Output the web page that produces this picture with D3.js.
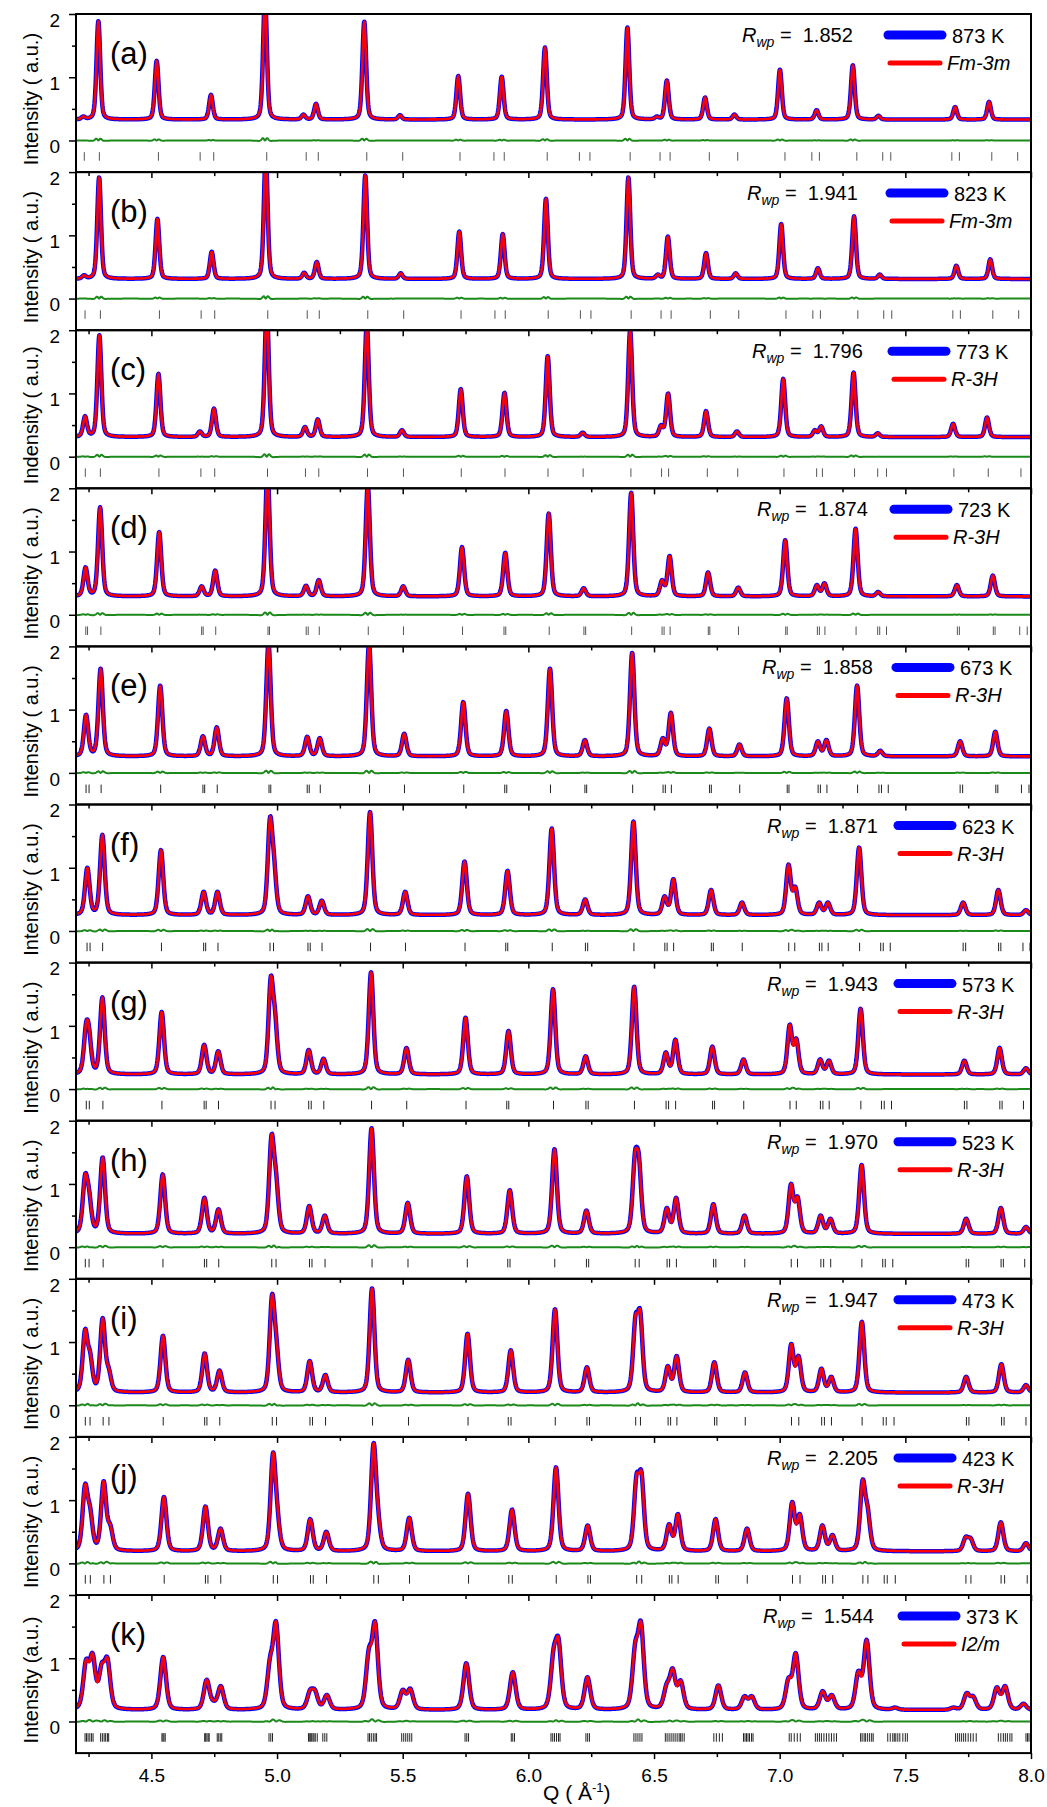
<!DOCTYPE html>
<html>
<head>
<meta charset="utf-8">
<script src="https://cdn.jsdelivr.net/npm/d3@7"></script>
<style>
  body { margin: 0; background: #fff; }
  svg { display: block; }
  text { font-family: "Liberation Sans", Arial, sans-serif; fill: #000; }
</style>
</head>
<body>
<svg id="chart" width="1047" height="1807"></svg>
<script>
// ---- panel metadata ----
const panelLabels = ["(a)", "(b)", "(c)", "(d)", "(e)", "(f)", "(g)", "(h)", "(i)", "(j)", "(k)"];
const temperatures = ["873 K", "823 K", "773 K", "723 K", "673 K", "623 K", "573 K", "523 K", "473 K", "423 K", "373 K"];
const spaceGroups = ["Fm-3m", "Fm-3m", "R-3H", "R-3H", "R-3H", "R-3H", "R-3H", "R-3H", "R-3H", "R-3H", "I2/m"];
const rwpValues = ["1.852", "1.941", "1.796", "1.874", "1.858", "1.871", "1.943", "1.970", "1.947", "2.205", "1.544"];
const yTitles = ["Intensity ( a.u.)", "Intensity ( a.u.)", "Indensity ( a.u.)", "Intensity ( a.u.)",
  "Intensity ( a.u.)", "Intensity ( a.u.)", "Intensity ( a.u.)", "Intensity ( a.u.)",
  "Intensity ( a.u.)", "Intensity ( a.u.)", "Intensity (a.u.)"];

// ---- axis ticks ----
const xMajorTicks = [4.5, 5.0, 5.5, 6.0, 6.5, 7.0, 7.5, 8.0];
const xMinorTicks = [4.25, 4.75, 5.25, 5.75, 6.25, 6.75, 7.25, 7.75];
const yMajorTicks = [0, 1, 2];
const yMinorTicks = [0.5, 1.5];

// ---- background level and peak width (FWHM, Å^-1) for each pattern ----
const backgrounds = [0.33, 0.31, 0.31, 0.29, 0.26, 0.25, 0.23, 0.21, 0.20, 0.19, 0.18];
const peakWidths  = [0.017, 0.017, 0.018, 0.019, 0.020, 0.021, 0.021, 0.022, 0.022, 0.023, 0.026];

// ---- reflections: [Q, observed intensity at that Q] ----
const peaksA = [[4.229,0.38],[4.289,1.89],[4.521,1.26],[4.737,0.72],[4.952,2.3],[5.105,0.41],[5.155,0.58],[5.347,1.88],[5.489,0.40],[5.721,1.02],[5.894,1.01],[6.066,1.47],[6.394,1.79],[6.511,0.38],[6.551,0.95],[6.703,0.68],[6.820,0.41],[7.001,1.12],[7.147,0.48],[7.291,1.19],[7.393,0.39],[7.698,0.53],[7.833,0.61]];
const peaksB = [[4.232,0.37],[4.292,1.92],[4.524,1.26],[4.740,0.74],[4.955,2.3],[5.108,0.41],[5.158,0.58],[5.351,1.95],[5.492,0.40],[5.725,1.06],[5.898,1.02],[6.070,1.58],[6.398,1.92],[6.515,0.38],[6.555,0.98],[6.707,0.72],[6.825,0.40],[7.006,1.18],[7.152,0.48],[7.296,1.30],[7.398,0.38],[7.703,0.52],[7.838,0.62]];
const peaksC = [[4.236,0.64],[4.293,1.92],[4.528,1.31],[4.693,0.40],[4.749,0.76],[4.959,2.4],[5.111,0.47],[5.162,0.59],[5.357,2.1],[5.497,0.42],[5.731,1.07],[5.905,1.01],[6.077,1.59],[6.216,0.38],[6.405,2.0],[6.528,0.50],[6.556,1.0],[6.707,0.72],[6.830,0.40],[7.014,1.23],[7.140,0.42],[7.165,0.48],[7.294,1.33],[7.390,0.37],[7.690,0.52],[7.825,0.62]];
const peaksD = [[4.238,0.75],[4.296,1.70],[4.531,1.31],[4.700,0.45],[4.754,0.70],[4.962,2.3],[5.115,0.46],[5.166,0.55],[5.361,2.05],[5.502,0.45],[5.736,1.07],[5.908,0.98],[6.081,1.60],[6.220,0.42],[6.409,1.93],[6.532,0.55],[6.562,0.93],[6.715,0.67],[6.835,0.43],[7.022,1.18],[7.148,0.47],[7.178,0.50],[7.302,1.36],[7.392,0.36],[7.705,0.47],[7.848,0.62]];
const peaksE = [[4.240,0.92],[4.298,1.65],[4.535,1.38],[4.705,0.58],[4.760,0.72],[4.966,2.05],[5.120,0.57],[5.170,0.55],[5.366,2.05],[5.506,0.62],[5.741,1.12],[5.912,0.98],[6.086,1.65],[6.225,0.52],[6.413,1.90],[6.535,0.55],[6.567,0.95],[6.720,0.70],[6.840,0.45],[7.028,1.18],[7.152,0.50],[7.186,0.52],[7.308,1.38],[7.400,0.35],[7.718,0.50],[7.858,0.65]];
const peaksF = [[4.245,1.00],[4.305,1.52],[4.538,1.28],[4.708,0.62],[4.763,0.62],[4.972,1.80],[4.988,1.20],[5.123,0.55],[5.178,0.48],[5.370,1.88],[5.510,0.62],[5.746,1.10],[5.917,0.95],[6.093,1.62],[6.226,0.50],[6.418,1.73],[6.542,0.55],[6.577,0.82],[6.727,0.65],[6.850,0.45],[7.035,1.05],[7.062,0.70],[7.157,0.45],[7.192,0.45],[7.316,1.32],[7.730,0.45],[7.870,0.65],[7.980,0.33]];
const peaksG = [[4.240,1.05],[4.252,0.98],[4.305,1.45],[4.541,1.22],[4.710,0.70],[4.766,0.60],[4.975,1.78],[4.992,1.25],[5.126,0.62],[5.185,0.48],[5.374,1.85],[5.515,0.65],[5.750,1.13],[5.921,0.92],[6.098,1.58],[6.228,0.52],[6.421,1.62],[6.547,0.58],[6.585,0.78],[6.732,0.67],[6.856,0.47],[7.040,1.02],[7.066,0.80],[7.161,0.47],[7.196,0.45],[7.322,1.27],[7.735,0.45],[7.875,0.65],[7.980,0.33]];
const peaksH = [[4.236,1.15],[4.252,0.92],[4.306,1.42],[4.545,1.15],[4.711,0.78],[4.767,0.60],[4.978,1.78],[4.996,1.20],[5.128,0.65],[5.190,0.50],[5.376,1.88],[5.520,0.70],[5.755,1.12],[5.926,0.90],[6.104,1.55],[6.231,0.58],[6.424,1.50],[6.440,1.45],[6.551,0.62],[6.588,0.78],[6.736,0.68],[6.860,0.50],[7.045,1.00],[7.071,0.80],[7.163,0.50],[7.202,0.45],[7.326,1.30],[7.742,0.45],[7.880,0.62],[7.980,0.32]];
const peaksI = [[4.236,1.20],[4.256,0.85],[4.306,1.38],[4.330,0.60],[4.546,1.10],[4.712,0.82],[4.771,0.55],[4.980,1.75],[4.997,1.10],[5.130,0.70],[5.192,0.48],[5.378,1.85],[5.522,0.72],[5.758,1.13],[5.930,0.87],[6.106,1.52],[6.233,0.60],[6.426,1.42],[6.445,1.50],[6.555,0.62],[6.590,0.78],[6.740,0.68],[6.862,0.52],[7.046,0.97],[7.075,0.78],[7.166,0.58],[7.205,0.45],[7.327,1.32],[7.742,0.45],[7.882,0.65],[7.980,0.32]];
const peaksJ = [[4.236,1.25],[4.256,0.90],[4.310,1.30],[4.336,0.62],[4.550,1.05],[4.715,0.90],[4.775,0.55],[4.984,1.75],[5.001,0.95],[5.132,0.70],[5.196,0.50],[5.384,1.90],[5.402,0.90],[5.526,0.72],[5.760,1.10],[5.935,0.85],[6.110,1.52],[6.236,0.60],[6.430,1.40],[6.450,1.45],[6.560,0.62],[6.595,0.78],[6.745,0.70],[6.870,0.55],[7.050,0.97],[7.080,0.78],[7.170,0.60],[7.210,0.45],[7.330,1.32],[7.350,0.90],[7.740,0.42],[7.760,0.40],[7.880,0.65],[7.980,0.32]];
const peaksK = [[4.240,0.98],[4.266,1.08],[4.284,0.30],[4.302,0.92],[4.325,1.01],[4.547,1.02],[4.720,0.66],[4.748,0.33],[4.776,0.56],[4.972,1.02],[4.996,1.58],[5.131,0.50],[5.151,0.50],[5.198,0.42],[5.365,1.15],[5.390,1.58],[5.500,0.50],[5.530,0.52],[5.753,0.92],[5.938,0.78],[6.100,1.15],[6.120,1.32],[6.235,0.70],[6.425,1.25],[6.448,1.58],[6.550,0.60],[6.574,0.84],[6.606,0.65],[6.756,0.57],[6.860,0.40],[6.889,0.40],[7.035,0.69],[7.064,1.08],[7.171,0.48],[7.207,0.42],[7.313,0.80],[7.346,1.29],[7.459,0.22],[7.691,0.22],[7.744,0.45],[7.770,0.40],[7.864,0.54],[7.897,0.56],[7.970,0.28]];

// ---- Bragg reflection positions (Q) ----
const braggA = [4.233,4.293,4.528,4.694,4.748,4.959,5.116,5.164,5.357,5.500,5.728,5.863,5.904,6.075,6.203,6.245,6.405,6.524,6.564,6.720,6.833,7.021,7.128,7.158,7.307,7.410,7.442,7.685,7.715,7.844,7.947];
const braggB = [4.236,4.297,4.532,4.698,4.752,4.963,5.120,5.168,5.361,5.504,5.732,5.867,5.908,6.079,6.207,6.249,6.409,6.528,6.568,6.724,6.837,7.025,7.132,7.162,7.311,7.414,7.446,7.689,7.719,7.848,7.951];
const braggC = [4.237,4.297,4.530,4.697,4.752,4.962,5.113,5.166,5.360,5.503,5.733,5.907,6.078,6.218,6.408,6.530,6.558,6.712,6.833,7.017,7.147,7.170,7.298,7.390,7.425,7.693,7.830,7.960];
const braggD = [4.239,4.246,4.299,4.533,4.700,4.706,4.756,4.964,4.970,5.116,5.124,5.168,5.363,5.503,5.738,5.903,5.910,6.083,6.221,6.228,6.411,6.532,6.540,6.564,6.716,6.722,6.836,7.024,7.030,7.150,7.158,7.180,7.304,7.390,7.398,7.425,7.707,7.715,7.850,7.857,7.955,7.985];
const braggE = [4.240,4.252,4.300,4.537,4.705,4.712,4.762,4.968,4.975,5.120,5.128,5.172,5.368,5.507,5.743,5.906,5.914,6.088,6.225,6.232,6.415,6.536,6.545,6.569,6.721,6.728,6.841,7.030,7.037,7.153,7.162,7.188,7.310,7.395,7.405,7.432,7.718,7.728,7.860,7.868,7.962,7.992];
const braggF = [4.244,4.256,4.306,4.540,4.708,4.716,4.765,4.972,4.986,5.123,5.132,5.179,5.372,5.511,5.748,5.910,5.918,6.095,6.227,6.236,6.420,6.543,6.552,6.578,6.728,6.736,6.851,7.036,7.060,7.158,7.168,7.193,7.318,7.402,7.412,7.440,7.730,7.740,7.871,7.880,7.968,7.996];
const braggG = [4.241,4.253,4.307,4.542,4.710,4.718,4.767,4.976,4.992,5.126,5.136,5.186,5.376,5.516,5.752,5.914,5.922,6.100,6.229,6.238,6.422,6.548,6.558,6.586,6.733,6.741,6.857,7.041,7.066,7.162,7.172,7.197,7.323,7.405,7.416,7.445,7.735,7.745,7.876,7.885,7.970,7.998];
const braggH = [4.237,4.252,4.308,4.546,4.711,4.720,4.768,4.979,4.996,5.129,5.139,5.191,5.378,5.521,5.757,5.918,5.927,6.105,6.231,6.240,6.425,6.441,6.552,6.562,6.589,6.737,6.746,6.861,7.046,7.071,7.164,7.175,7.203,7.327,7.410,7.420,7.450,7.742,7.752,7.881,7.890,7.975];
const braggI = [4.237,4.256,4.308,4.331,4.547,4.712,4.721,4.772,4.981,4.998,5.131,5.141,5.193,5.380,5.523,5.760,5.920,5.931,6.107,6.233,6.243,6.427,6.446,6.556,6.566,6.591,6.741,6.750,6.863,7.047,7.076,7.167,7.178,7.206,7.328,7.412,7.424,7.455,7.743,7.753,7.883,7.893,7.980];
const braggJ = [4.237,4.257,4.311,4.337,4.551,4.715,4.725,4.776,4.985,5.002,5.133,5.144,5.197,5.385,5.403,5.527,5.762,5.922,5.936,6.111,6.237,6.247,6.431,6.451,6.561,6.571,6.596,6.746,6.756,6.871,7.051,7.081,7.171,7.182,7.211,7.331,7.351,7.416,7.428,7.460,7.741,7.761,7.881,7.895,7.985];
const braggK = [4.236,4.242,4.248,4.255,4.262,4.268,4.298,4.305,4.312,4.318,4.325,4.330,4.542,4.546,4.550,4.555,4.712,4.716,4.721,4.726,4.730,4.762,4.768,4.774,4.780,4.968,4.975,4.982,5.125,5.130,5.134,5.138,5.143,5.147,5.152,5.160,5.182,5.190,5.198,5.362,5.368,5.375,5.383,5.390,5.396,5.496,5.504,5.512,5.520,5.528,5.536,5.748,5.755,5.762,5.932,5.938,5.945,6.090,6.097,6.104,6.112,6.120,6.126,6.229,6.236,6.243,6.420,6.428,6.436,6.444,6.452,6.545,6.552,6.560,6.568,6.576,6.584,6.592,6.600,6.606,6.612,6.620,6.738,6.748,6.760,6.772,6.856,6.862,6.868,6.874,6.880,6.888,6.894,7.038,7.046,7.058,7.070,7.082,7.142,7.150,7.158,7.166,7.176,7.186,7.196,7.206,7.216,7.226,7.322,7.328,7.336,7.342,7.350,7.358,7.366,7.372,7.430,7.440,7.450,7.456,7.462,7.470,7.478,7.490,7.500,7.508,7.700,7.708,7.716,7.724,7.732,7.740,7.750,7.760,7.770,7.782,7.870,7.880,7.890,7.898,7.906,7.916,7.924,7.980,7.986,7.992,7.998];

const peakSets = [peaksA, peaksB, peaksC, peaksD, peaksE, peaksF, peaksG, peaksH, peaksI, peaksJ, peaksK];
const braggSets = [braggA, braggB, braggC, braggD, braggE, braggF, braggG, braggH, braggI, braggJ, braggK];

// ---- layout ----
const plotLeft = 76, plotRight = 1031, plotTop = 14, panelH = 158.1;
const nPanels = panelLabels.length;

const svg = d3.select("#chart");
const x = d3.scaleLinear().domain([4.2, 8.0]).range([plotLeft, plotRight]);

// pseudo-Voigt profile, unit height at centre
function pv(q, q0, w, eta) {
  const d = (q - q0) / (w / 2);
  const lor = 1 / (1 + d * d);
  const gau = Math.exp(-Math.LN2 * d * d);
  return eta * lor + (1 - eta) * gau;
}

// Peak amplitudes such that the summed profile passes through the listed
// intensities at the listed positions (non-negative Gauss-Seidel solve).
function solveAmplitudes(peaks, base, w, eta) {
  const n = peaks.length;
  const target = peaks.map(p => p[1] - base);
  const amp = target.slice();
  for (let it = 0; it < 400; it++) {
    for (let k = 0; k < n; k++) {
      let s = target[k];
      for (let j = 0; j < n; j++) if (j !== k) s -= amp[j] * pv(peaks[k][0], peaks[j][0], w, eta);
      amp[k] = Math.max(0, s);
    }
  }
  return amp;
}

// sampled Q grid
const qGrid = d3.range(4.2, 8.0001, 0.0015);
const etaCalc = 0.40, etaObs = 0.34;

for (let i = 0; i < nPanels; i++) {
  const top = plotTop + i * panelH;
  const bottom = top + panelH;
  const y = d3.scaleLinear().domain([-0.5, 2.0]).range([bottom, top]);
  const base = backgrounds[i];
  const w = peakWidths[i];
  const peaks = peakSets[i];
  const ampCalc = solveAmplitudes(peaks, base, w, etaCalc);
  const ampObs = solveAmplitudes(peaks, base, w * 1.03, etaObs);

  const calc = qGrid.map(q => {
    let s = base;
    peaks.forEach((p, k) => { s += ampCalc[k] * pv(q, p[0], w, etaCalc); });
    return [q, s];
  });
  const obs = qGrid.map(q => {
    let s = base;
    peaks.forEach((p, k) => { s += ampObs[k] * pv(q, p[0], w * 1.03, etaObs); });
    return [q, s];
  });
  const diff = obs.map((d, k) => [d[0], d[1] - calc[k][1]]);

  const g = svg.append("g");
  const clipId = "clip" + i;
  svg.append("clipPath").attr("id", clipId)
    .append("rect").attr("x", plotLeft).attr("y", top).attr("width", plotRight - plotLeft).attr("height", panelH);

  const line = d3.line().x(d => x(d[0])).y(d => y(d[1]));
  const curves = g.append("g").attr("clip-path", `url(#${clipId})`);

  // Bragg markers
  curves.selectAll("line.bragg").data(braggSets[i]).join("line")
    .attr("class", "bragg")
    .attr("x1", d => x(d)).attr("x2", d => x(d))
    .attr("y1", y(-0.185)).attr("y2", y(-0.32))
    .attr("stroke", i < 4 ? "#555" : "#222").attr("stroke-width", 1);

  curves.append("path").datum(diff).attr("d", line)
    .attr("fill", "none").attr("stroke", "#1b8a1b").attr("stroke-width", 2);
  curves.append("path").datum(obs).attr("d", line)
    .attr("fill", "none").attr("stroke", "#0000ff").attr("stroke-width", 4.5).attr("stroke-linejoin", "round");
  curves.append("path").datum(calc).attr("d", line)
    .attr("fill", "none").attr("stroke", "#ff0000").attr("stroke-width", 2.6).attr("stroke-linejoin", "round");

  // y axis: major + minor ticks
  const yMaj = g.append("g").attr("transform", `translate(${plotLeft},0)`)
    .call(d3.axisLeft(y).tickValues(yMajorTicks).tickSize(7).tickPadding(9).tickFormat(d3.format("d")));
  const yMin = g.append("g").attr("transform", `translate(${plotLeft},0)`)
    .call(d3.axisLeft(y).tickValues(yMinorTicks).tickSize(4).tickFormat(""));
  [yMaj, yMin].forEach(a => {
    a.select(".domain").remove();
    a.selectAll("line").attr("stroke", "#000").attr("stroke-width", 1.5);
  });
  yMaj.selectAll("text").attr("font-size", 19).attr("dy", "0.65em")
    .style("font-family", '"Liberation Sans", Arial, sans-serif');

  // x axis ticks (bottom, outward)
  const xMaj = g.append("g").attr("transform", `translate(0,${bottom})`)
    .call(d3.axisBottom(x).tickValues(xMajorTicks).tickSize(6).tickPadding(9).tickFormat(d3.format(".1f")));
  const xMin = g.append("g").attr("transform", `translate(0,${bottom})`)
    .call(d3.axisBottom(x).tickValues(xMinorTicks).tickSize(4).tickFormat(""));
  [xMaj, xMin].forEach(a => {
    a.select(".domain").remove();
    a.selectAll("line").attr("stroke", "#000").attr("stroke-width", 1.5);
  });
  if (i < nPanels - 1) xMaj.selectAll("text").remove();
  else xMaj.selectAll("text").attr("font-size", 19)
    .style("font-family", '"Liberation Sans", Arial, sans-serif');

  // frame
  g.append("rect").attr("x", plotLeft).attr("y", top)
    .attr("width", plotRight - plotLeft).attr("height", panelH)
    .attr("fill", "none").attr("stroke", "#000").attr("stroke-width", 2);

  // panel label
  g.append("text").attr("x", 110).attr("y", top + 50)
    .attr("font-size", 31).text(panelLabels[i]);

  // y title
  g.append("text")
    .attr("transform", `translate(38,${top + panelH / 2 + 6}) rotate(-90)`)
    .attr("text-anchor", "middle").attr("font-size", 20).text(yTitles[i]);

  // legend
  const lx = i === nPanels - 1 ? 763 : 742 + Math.min(i, 5) * 5;
  const bx = i === nPanels - 1 ? 902 : 888 + Math.min(i, 5) * 2;
  const rw = g.append("text").attr("x", lx).attr("y", top + 28).attr("font-size", 20);
  rw.append("tspan").attr("font-style", "italic").text("R");
  rw.append("tspan").attr("font-style", "italic").attr("font-size", 14).attr("dy", 5).text("wp");
  rw.append("tspan").attr("dy", -5).attr("xml:space", "preserve").text(" =  " + rwpValues[i]);

  g.append("line").attr("x1", bx).attr("x2", bx + 54).attr("y1", top + 21).attr("y2", top + 21)
    .attr("stroke", "#0000ff").attr("stroke-width", 9).attr("stroke-linecap", "round");
  g.append("text").attr("x", bx + 64).attr("y", top + 29).attr("font-size", 20).text(temperatures[i]);
  g.append("line").attr("x1", bx + 2).attr("x2", bx + 52).attr("y1", top + 49).attr("y2", top + 49)
    .attr("stroke", "#ff0000").attr("stroke-width", 5).attr("stroke-linecap", "round");
  g.append("text").attr("x", bx + 59).attr("y", top + 56).attr("font-size", 20)
    .attr("font-style", "italic").text(spaceGroups[i]);
}

// x axis title
const xt = svg.append("text").attr("x", 543).attr("y", 1800).attr("font-size", 21);
xt.append("tspan").attr("xml:space", "preserve").text("Q ( Å");
xt.append("tspan").attr("font-size", 13).attr("dy", -8).text("-1");
xt.append("tspan").attr("dy", 8).text(")");
</script>
</body>
</html>
